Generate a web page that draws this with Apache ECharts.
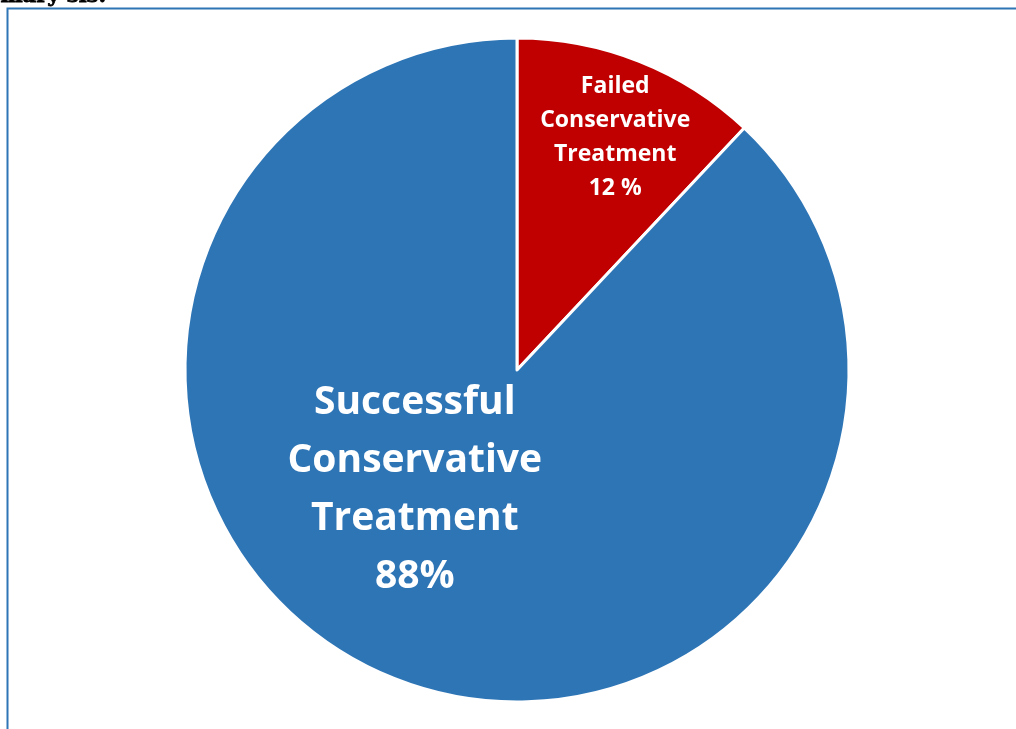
<!DOCTYPE html>
<html>
<head>
<meta charset="utf-8">
<script src="https://cdn.jsdelivr.net/npm/echarts@6/dist/echarts.min.js"></script>
<style>
  html, body { margin: 0; padding: 0; background: #ffffff; }
  #chart { width: 1016px; height: 729px; }
</style>
</head>
<body>
<div id="chart"></div>
<script>
// Outcome categories and their shares (%)
const categories = ['Failed\nConservative\nTreatment', 'Successful\nConservative\nTreatment'];
const shares = [12, 88];
const shareSuffix = [' %', '%'];
const sliceColors = ['#C00000', '#2E75B6'];

const chart = echarts.init(document.getElementById('chart'));

const data = categories.map((name, i) => ({
  name: name,
  value: shares[i],
  itemStyle: { color: sliceColors[i] },
  label: i === 0
    ? { fontSize: 23, lineHeight: 34 }
    : { fontSize: 39, lineHeight: 58 }
}));

// Label nudges away from the default inside anchor
const labelShift = [[36, -75], [-40, -37]];

chart.setOption({
  animation: false,
  graphic: [
    {
      type: 'text',
      left: 0,
      top: -14,
      style: {
        text: 'mary sis:',
        fontFamily: 'DejaVu Serif',
        fontSize: 21,
        fontWeight: 900,
        fill: '#000000',
        stroke: '#000000',
        lineWidth: 0.8
      }
    },
    {
      type: 'rect',
      shape: { x: 7.5, y: 8.5, width: 1100, height: 800 },
      style: { fill: 'none', stroke: '#2E75B6', lineWidth: 2 }
    }
  ],
  series: [{
    type: 'pie',
    center: [517, 370],
    radius: [0, 332],
    startAngle: 90,
    clockwise: true,
    avoidLabelOverlap: false,
    data: data,
    itemStyle: { borderColor: '#ffffff', borderWidth: 3 },
    label: {
      show: true,
      position: 'inside',
      color: '#ffffff',
      fontFamily: 'Open Sans',
      fontWeight: 'bold',
      align: 'center',
      formatter: p => p.name + '\n' + p.value + shareSuffix[p.dataIndex]
    },
    labelLine: { show: false },
    labelLayout: p => ({ dx: labelShift[p.dataIndex][0], dy: labelShift[p.dataIndex][1] })
  }]
});
</script>
</body>
</html>
